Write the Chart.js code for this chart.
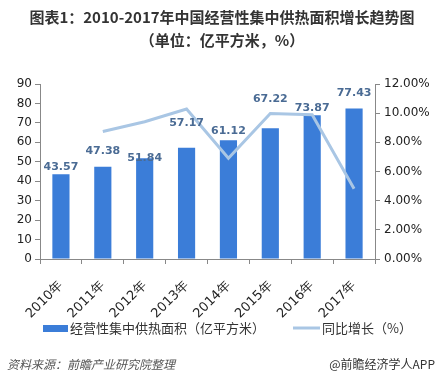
<!DOCTYPE html>
<html><head><meta charset="utf-8">
<script src="https://cdn.jsdelivr.net/npm/chart.js@4/dist/chart.umd.min.js"></script>
<style>html,body{margin:0;padding:0;background:#fff;}#wrap{width:444px;height:383px;position:relative;}</style>
</head><body><div id="wrap"><canvas id="c" width="444" height="383"></canvas></div>
<script>
const categories = ['2010年','2011年','2012年','2013年','2014年','2015年','2016年','2017年'];
const areaValues = [43.57, 47.38, 51.84, 57.17, 61.12, 67.22, 73.87, 77.43];
const growthValues = [null, 0.0874, 0.0941, 0.1028, 0.0691, 0.0998, 0.0989, 0.0482];
const leftTicks = [0,10,20,30,40,50,60,70,80,90];
const rightTicks = [0,0.02,0.04,0.06,0.08,0.10,0.12];
const titleLines = ['图表1：2010-2017年中国经营性集中供热面积增长趋势图','（单位：亿平方米，%）'];
const seriesNames = ['经营性集中供热面积（亿平方米）','同比增长（%）'];
const sourceText = '资料来源：前瞻产业研究院整理';
const brandText = '@前瞻经济学人APP';

const BAR = '#3b7dd8', LINE = '#a9c6e4', LABEL = '#4a6b94';
const CJK = '"Noto Sans CJK SC", sans-serif';
const NUM = '"DejaVu Sans", sans-serif';
const labelLift = [7, 16, 0, 25, 9, 29, 7, 15];

const extras = {
  id: 'extras',
  afterDatasetsDraw(chart) {
    const ctx = chart.ctx;
    const meta = chart.getDatasetMeta(1);
    ctx.save();
    ctx.font = 'bold 11px ' + NUM;
    ctx.fillStyle = LABEL;
    ctx.textAlign = 'center';
    ctx.textBaseline = 'middle';
    meta.data.forEach((el, i) => {
      ctx.fillText(areaValues[i].toFixed(2), el.x, el.y - labelLift[i]);
    });
    ctx.restore();
  },
  afterDraw(chart) {
    const ctx = chart.ctx;
    ctx.save();
    ctx.fillStyle = '#333';
    ctx.textAlign = 'center';
    ctx.textBaseline = 'middle';
    ctx.font = 'bold 15px ' + CJK;
    ctx.fillText(titleLines[0], 222, 17);
    ctx.fillText(titleLines[1], 222, 40);
    // legend
    ctx.fillStyle = BAR;
    ctx.fillRect(43, 325, 25, 7);
    ctx.font = '13px ' + CJK;
    ctx.fillStyle = '#333';
    ctx.textAlign = 'left';
    ctx.fillText(seriesNames[0], 70, 328);
    ctx.strokeStyle = LINE;
    ctx.lineWidth = 3;
    ctx.beginPath(); ctx.moveTo(293, 328); ctx.lineTo(320, 328); ctx.stroke();
    ctx.fillText(seriesNames[1], 322, 328);
    // footer
    ctx.font = 'italic 12px ' + CJK;
    ctx.fillStyle = '#555';
    ctx.fillText(sourceText, 7, 364);
    ctx.font = '12px ' + CJK;
    ctx.textAlign = 'right';
    ctx.fillStyle = '#333';
    ctx.fillText(brandText, 435, 364);
    ctx.restore();
  }
};

new Chart(document.getElementById('c'), {
  data: {
    labels: categories,
    datasets: [
      { type: 'line', label: seriesNames[1], data: growthValues, yAxisID: 'y1',
        borderColor: LINE, borderWidth: 3, pointRadius: 0, tension: 0, spanGaps: false, order: 0 },
      { type: 'bar', label: seriesNames[0], data: areaValues, yAxisID: 'y',
        backgroundColor: BAR, categoryPercentage: 1, barPercentage: 0.41, order: 1 }
    ]
  },
  options: {
    responsive: false,
    animation: false,
    devicePixelRatio: 1,
    layout: { padding: { top: 84, bottom: 54, left: 0, right: 0 } },
    plugins: { legend: { display: false }, title: { display: false }, tooltip: { enabled: false } },
    scales: {
      x: {
        offset: true,
        grid: { display: true, offset: true, drawOnChartArea: false, color: '#888', tickLength: 5 },
        border: { display: true, color: '#888' },
        ticks: { color: '#222', font: { family: NUM, size: 13 }, maxRotation: 45, minRotation: 45, padding: 14 },
        afterFit(s) { s.height = 70; }
      },
      y: {
        position: 'left', min: 0, max: 90,
        afterBuildTicks(s) { s.ticks = leftTicks.map(v => ({ value: v })); },
        grid: { display: true, drawOnChartArea: false, color: '#888', tickLength: 5 },
        border: { display: true, color: '#888' },
        ticks: { color: '#222', font: { family: NUM, size: 12 }, padding: 3 },
        afterFit(s) { s.width = 40; }
      },
      y1: {
        position: 'right', min: 0, max: 0.12,
        afterBuildTicks(s) { s.ticks = rightTicks.map(v => ({ value: v })); },
        grid: { display: true, drawOnChartArea: false, color: '#888', tickLength: 5 },
        border: { display: true, color: '#888' },
        ticks: { color: '#222', font: { family: NUM, size: 12 }, padding: 4,
          callback: v => (v * 100).toFixed(2) + '%' },
        afterFit(s) { s.width = 69; }
      }
    }
  },
  plugins: [extras]
});
</script></body></html>
